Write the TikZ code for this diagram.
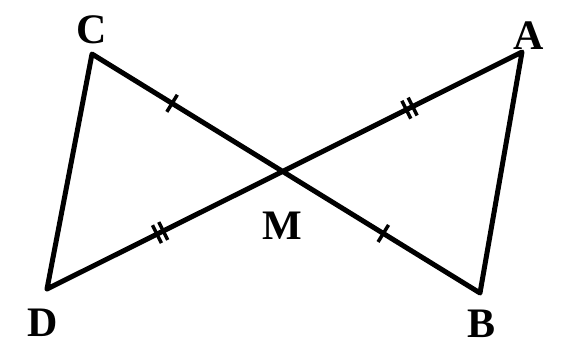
\documentclass[tikz,border=0pt]{standalone}
\usepackage{fontspec}
\setmainfont{Liberation Serif}
\usetikzlibrary{calc}

\begin{document}
\begin{tikzpicture}[
  x=1pt, y=-1pt,
  seg/.style={line width=5pt, line cap=round, line join=round},
  tick/.style={line width=3.5pt},
  lbl/.style={font=\fontsize{42}{44}\selectfont\bfseries, inner sep=0pt},
]
  \useasboundingbox (0,0) rectangle (564,346);

  % Points
  \coordinate (C) at (92,54);
  \coordinate (A) at (522,52);
  \coordinate (D) at (47,289);
  \coordinate (B) at (480,293);
  \coordinate (M) at (intersection of C--B and A--D);

  % Segments
  \draw[seg] (D) -- (C) -- (B) -- (A) -- (D);

  % Equal marks
  \coordinate (t1) at ($(C)!0.42!(M)$);
  \draw[tick] ($(t1)!10pt!90:(M)$) -- ($(t1)!10pt!-90:(M)$);
  \coordinate (t2) at ($(M)!0.51!(B)$);
  \draw[tick] ($(t2)!10pt!90:(B)$) -- ($(t2)!10pt!-90:(B)$);
  \foreach \s in {-3.5,3.5} {
    \coordinate (t3) at ($(M)!0.53!(A)!\s pt!(A)$);
    \draw[tick] ($(t3)!10pt!90:(A)$) -- ($(t3)!10pt!-90:(A)$);
    \coordinate (t4) at ($(M)!0.52!(D)!\s pt!(D)$);
    \draw[tick] ($(t4)!10pt!90:(D)$) -- ($(t4)!10pt!-90:(D)$);
  }

  % Labels
  \node[lbl] (lC) at (92,30) {C};
  \node[lbl] (lA) at (529,36) {A};
  \node[lbl] (lD) at (43,323) {D};
  \node[lbl] (lB) at (481,324) {B};
  \node[lbl] (lM) at (282,226) {M};
\end{tikzpicture}
\end{document}
